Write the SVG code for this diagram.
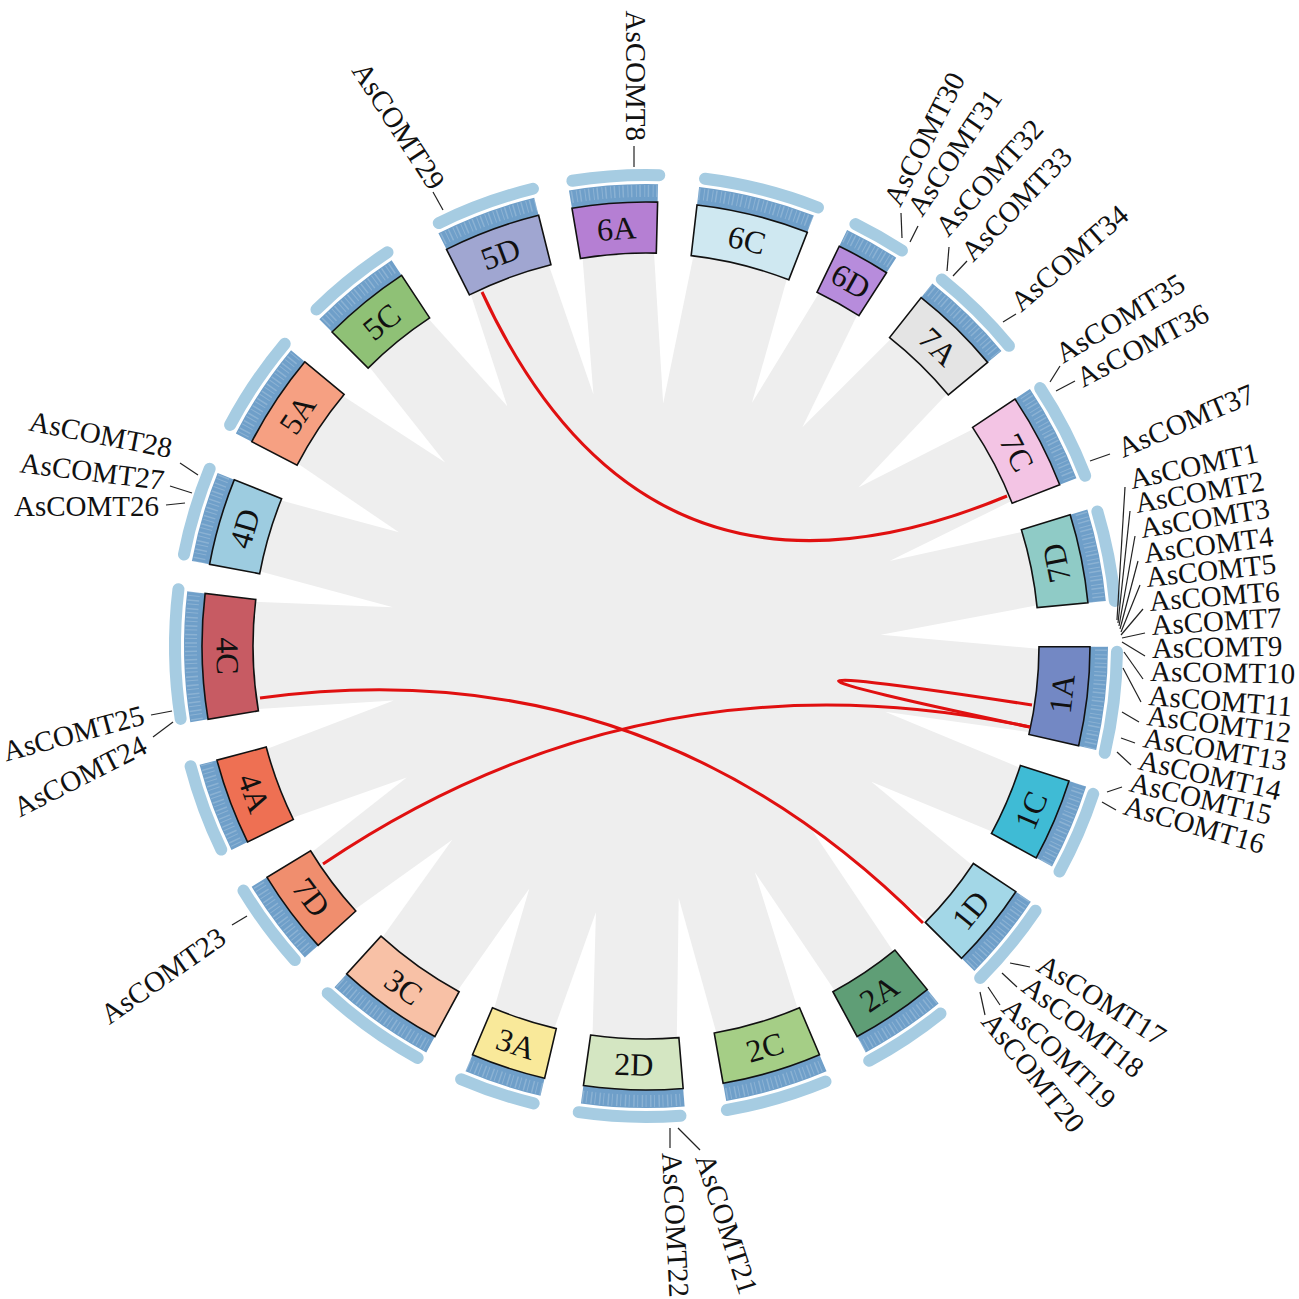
<svg xmlns="http://www.w3.org/2000/svg" width="1299" height="1299" viewBox="0 0 1299 1299">
<style>
.box{stroke:#111;stroke-width:1.6}
.band{fill:none;stroke:#6f9fc9;stroke-width:18}
.arc{fill:none;stroke:#a6cce2;stroke-width:12;stroke-linecap:round}
.clab{font-family:"Liberation Serif","Times New Roman",serif;font-size:32px;fill:#111;text-anchor:middle;dominant-baseline:central}
.glab{font-family:"Liberation Serif","Times New Roman",serif;font-size:29px;fill:#111}
.end{text-anchor:end}
.lead{stroke:#222;stroke-width:1.2;fill:none}
.link{fill:none;stroke:#e01010;stroke-width:3}
.wedge{fill:#fff}
.ticks{fill:none;stroke:#fff;stroke-opacity:0.2;stroke-width:12;stroke-dasharray:1 2.5 1.5 3.5}
</style>
<rect width="1299" height="1299" fill="#fff"/>
<g id="ribbons">
<circle cx="646" cy="646" r="394" fill="#eeeeee"/>
<path class="wedge" transform="translate(646 646) rotate(348.2)" d="M -18.8 -405 L 0 -257 L 18.8 -405 Z"/>
<path class="wedge" transform="translate(646 646) rotate(4.05)" d="M -21.4 -405 L 0 -243 L 21.4 -405 Z"/>
<path class="wedge" transform="translate(646 646) rotate(23.55)" d="M -19.2 -405 L 0 -265 L 19.2 -405 Z"/>
<path class="wedge" transform="translate(646 646) rotate(35.55)" d="M -22.8 -405 L 0 -269 L 22.8 -405 Z"/>
<path class="wedge" transform="translate(646 646) rotate(53.25)" d="M -24.2 -405 L 0 -265 L 24.2 -405 Z"/>
<path class="wedge" transform="translate(646 646) rotate(70.75)" d="M -17.8 -405 L 0 -258 L 17.8 -405 Z"/>
<path class="wedge" transform="translate(646 646) rotate(87.25)" d="M -23.5 -405 L 0 -235 L 23.5 -405 Z"/>
<path class="wedge" transform="translate(646 646) rotate(105.35)" d="M -19.9 -405 L 0 -248 L 19.9 -405 Z"/>
<path class="wedge" transform="translate(646 646) rotate(121.05)" d="M -21.4 -405 L 0 -263 L 21.4 -405 Z"/>
<path class="wedge" transform="translate(646 646) rotate(137.7)" d="M -24.6 -405 L 0 -240 L 24.6 -405 Z"/>
<path class="wedge" transform="translate(646 646) rotate(154.3)" d="M -22.4 -405 L 0 -251 L 22.4 -405 Z"/>
<path class="wedge" transform="translate(646 646) rotate(172.6)" d="M -21.7 -405 L 0 -254 L 21.7 -405 Z"/>
<path class="wedge" transform="translate(646 646) rotate(190.65)" d="M -21.4 -405 L 0 -271 L 21.4 -405 Z"/>
<path class="wedge" transform="translate(646 646) rotate(205.7)" d="M -22.4 -405 L 0 -269 L 22.4 -405 Z"/>
<path class="wedge" transform="translate(646 646) rotate(225)" d="M -21.7 -405 L 0 -274 L 21.7 -405 Z"/>
<path class="wedge" transform="translate(646 646) rotate(241.2)" d="M -21.7 -405 L 0 -273 L 21.7 -405 Z"/>
<path class="wedge" transform="translate(646 646) rotate(257.8)" d="M -22.4 -405 L 0 -258 L 22.4 -405 Z"/>
<path class="wedge" transform="translate(646 646) rotate(278.7)" d="M -16.7 -405 L 0 -256 L 16.7 -405 Z"/>
<path class="wedge" transform="translate(646 646) rotate(294.7)" d="M -22.4 -405 L 0 -272 L 22.4 -405 Z"/>
<path class="wedge" transform="translate(646 646) rotate(312.4)" d="M -21.7 -405 L 0 -272 L 21.7 -405 Z"/>
<path class="wedge" transform="translate(646 646) rotate(329.95)" d="M -27.1 -405 L 0 -277 L 27.1 -405 Z"/>
</g>
<g id="chromosomes">
<g id="chr-6A" transform="translate(646 646) rotate(-4.05)">
<circle class="arc" r="471" transform="rotate(-94.95)" stroke-dasharray="87.25 3000"/>
<circle class="band" r="453" transform="rotate(-95.55)" stroke-dasharray="87.76 3000"/>
<path class="box" fill="#b57fd3" d="M -42.94 -441.92 A 444 444 0 0 1 42.94 -441.92 L 38.01 -391.16 A 393 393 0 0 0 -38.01 -391.16 Z"/>
<text class="clab" x="0" y="-418.5">6A</text>
</g>
<g id="chr-6C" transform="translate(646 646) rotate(13.95)">
<circle class="arc" r="471" transform="rotate(-96.75)" stroke-dasharray="116.84 3000"/>
<circle class="band" r="453" transform="rotate(-97.35)" stroke-dasharray="116.22 3000"/>
<path class="box" fill="#cfe8f1" d="M -56.80 -440.35 A 444 444 0 0 1 56.80 -440.35 L 50.28 -389.77 A 393 393 0 0 0 -50.28 -389.77 Z"/>
<text class="clab" x="0" y="-418.5">6C</text>
</g>
<g id="chr-6D" transform="translate(646 646) rotate(29.3)">
<circle class="arc" r="471" transform="rotate(-92.9)" stroke-dasharray="53.54 3000"/>
<circle class="band" r="453" transform="rotate(-93.5)" stroke-dasharray="55.34 3000"/>
<path class="box" fill="#b78cdc" d="M -27.11 -443.17 A 444 444 0 0 1 27.11 -443.17 L 23.99 -392.27 A 393 393 0 0 0 -23.99 -392.27 Z"/>
<text class="clab" x="0" y="-418.5">6D</text>
</g>
<g id="chr-7A" transform="translate(646 646) rotate(44.3)">
<circle class="arc" r="471" transform="rotate(-95.4)" stroke-dasharray="94.65 3000"/>
<circle class="band" r="453" transform="rotate(-96)" stroke-dasharray="94.88 3000"/>
<path class="box" fill="#e4e4e4" d="M -46.41 -441.57 A 444 444 0 0 1 46.41 -441.57 L 41.08 -390.85 A 393 393 0 0 0 -41.08 -390.85 Z"/>
<text class="clab" x="0" y="-418.5">7A</text>
</g>
<g id="chr-7C" transform="translate(646 646) rotate(62.45)">
<circle class="arc" r="471" transform="rotate(-95.65)" stroke-dasharray="98.76 3000"/>
<circle class="band" r="453" transform="rotate(-96.25)" stroke-dasharray="98.83 3000"/>
<path class="box" fill="#f3c4e4" d="M -48.34 -441.36 A 444 444 0 0 1 48.34 -441.36 L 42.79 -390.67 A 393 393 0 0 0 -42.79 -390.67 Z"/>
<text class="clab" x="0" y="-418.5">7C</text>
</g>
<g id="chr-7D-right" transform="translate(646 646) rotate(78.6)">
<circle class="arc" r="471" transform="rotate(-95.2)" stroke-dasharray="91.36 3000"/>
<circle class="band" r="453" transform="rotate(-95.8)" stroke-dasharray="91.71 3000"/>
<path class="box" fill="#8fcbc6" d="M -44.87 -441.73 A 444 444 0 0 1 44.87 -441.73 L 39.72 -390.99 A 393 393 0 0 0 -39.72 -390.99 Z"/>
<text class="clab" x="0" y="-418.5" transform="rotate(180 0 -418.5)">7D</text>
</g>
<g id="chr-1A" transform="translate(646 646) rotate(96.55)">
<circle class="arc" r="471" transform="rotate(-95.85)" stroke-dasharray="102.04 3000"/>
<circle class="band" r="453" transform="rotate(-96.45)" stroke-dasharray="101.99 3000"/>
<path class="box" fill="#7388c4" d="M -49.87 -441.19 A 444 444 0 0 1 49.87 -441.19 L 44.15 -390.51 A 393 393 0 0 0 -44.15 -390.51 Z"/>
<text class="clab" x="0" y="-418.5" transform="rotate(180 0 -418.5)">1A</text>
</g>
<g id="chr-1C" transform="translate(646 646) rotate(113.1)">
<circle class="arc" r="471" transform="rotate(-94.8)" stroke-dasharray="84.78 3000"/>
<circle class="band" r="453" transform="rotate(-95.4)" stroke-dasharray="85.39 3000"/>
<path class="box" fill="#3fbbd5" d="M -41.78 -442.03 A 444 444 0 0 1 41.78 -442.03 L 36.98 -391.26 A 393 393 0 0 0 -36.98 -391.26 Z"/>
<text class="clab" x="0" y="-418.5" transform="rotate(180 0 -418.5)">1C</text>
</g>
<g id="chr-1D" transform="translate(646 646) rotate(129.15)">
<circle class="arc" r="471" transform="rotate(-94.95)" stroke-dasharray="87.25 3000"/>
<circle class="band" r="453" transform="rotate(-95.55)" stroke-dasharray="87.76 3000"/>
<path class="box" fill="#a3d7e7" d="M -42.94 -441.92 A 444 444 0 0 1 42.94 -441.92 L 38.01 -391.16 A 393 393 0 0 0 -38.01 -391.16 Z"/>
<text class="clab" x="0" y="-418.5" transform="rotate(180 0 -418.5)">1D</text>
</g>
<g id="chr-2A" transform="translate(646 646) rotate(146.15)">
<circle class="arc" r="471" transform="rotate(-94.85)" stroke-dasharray="85.60 3000"/>
<circle class="band" r="453" transform="rotate(-95.45)" stroke-dasharray="86.18 3000"/>
<path class="box" fill="#5f9e76" d="M -42.17 -441.99 A 444 444 0 0 1 42.17 -441.99 L 37.33 -391.22 A 393 393 0 0 0 -37.33 -391.22 Z"/>
<text class="clab" x="0" y="-418.5" transform="rotate(180 0 -418.5)">2A</text>
</g>
<g id="chr-2C" transform="translate(646 646) rotate(163.5)">
<circle class="arc" r="471" transform="rotate(-95.9)" stroke-dasharray="102.87 3000"/>
<circle class="band" r="453" transform="rotate(-96.5)" stroke-dasharray="102.78 3000"/>
<path class="box" fill="#a5ce86" d="M -50.26 -441.15 A 444 444 0 0 1 50.26 -441.15 L 44.49 -390.47 A 393 393 0 0 0 -44.49 -390.47 Z"/>
<text class="clab" x="0" y="-418.5" transform="rotate(180 0 -418.5)">2C</text>
</g>
<g id="chr-2D" transform="translate(646 646) rotate(181.65)">
<circle class="arc" r="471" transform="rotate(-95.85)" stroke-dasharray="102.04 3000"/>
<circle class="band" r="453" transform="rotate(-96.45)" stroke-dasharray="101.99 3000"/>
<path class="box" fill="#d4e6c2" d="M -49.87 -441.19 A 444 444 0 0 1 49.87 -441.19 L 44.15 -390.51 A 393 393 0 0 0 -44.15 -390.51 Z"/>
<text class="clab" x="0" y="-418.5" transform="rotate(180 0 -418.5)">2D</text>
</g>
<g id="chr-3A" transform="translate(646 646) rotate(198.1)">
<circle class="arc" r="471" transform="rotate(-94.3)" stroke-dasharray="76.56 3000"/>
<circle class="band" r="453" transform="rotate(-94.9)" stroke-dasharray="77.48 3000"/>
<path class="box" fill="#f9e99a" d="M -37.93 -442.38 A 444 444 0 0 1 37.93 -442.38 L 33.57 -391.57 A 393 393 0 0 0 -33.57 -391.57 Z"/>
<text class="clab" x="0" y="-418.5" transform="rotate(180 0 -418.5)">3A</text>
</g>
<g id="chr-3C" transform="translate(646 646) rotate(215.4)">
<circle class="arc" r="471" transform="rotate(-96.4)" stroke-dasharray="111.09 3000"/>
<circle class="band" r="453" transform="rotate(-97)" stroke-dasharray="110.69 3000"/>
<path class="box" fill="#f8c1a6" d="M -54.11 -440.69 A 444 444 0 0 1 54.11 -440.69 L 47.90 -390.07 A 393 393 0 0 0 -47.90 -390.07 Z"/>
<text class="clab" x="0" y="-418.5" transform="rotate(180 0 -418.5)">3C</text>
</g>
<g id="chr-7D-left" transform="translate(646 646) rotate(233.1)">
<circle class="arc" r="471" transform="rotate(-94.9)" stroke-dasharray="86.43 3000"/>
<circle class="band" r="453" transform="rotate(-95.5)" stroke-dasharray="86.97 3000"/>
<path class="box" fill="#f08e6e" d="M -42.56 -441.96 A 444 444 0 0 1 42.56 -441.96 L 37.67 -391.19 A 393 393 0 0 0 -37.67 -391.19 Z"/>
<text class="clab" x="0" y="-418.5" transform="rotate(180 0 -418.5)">7D</text>
</g>
<g id="chr-4A" transform="translate(646 646) rotate(249.45)">
<circle class="arc" r="471" transform="rotate(-95.05)" stroke-dasharray="88.89 3000"/>
<circle class="band" r="453" transform="rotate(-95.65)" stroke-dasharray="89.34 3000"/>
<path class="box" fill="#ee7053" d="M -43.71 -441.84 A 444 444 0 0 1 43.71 -441.84 L 38.69 -391.09 A 393 393 0 0 0 -38.69 -391.09 Z"/>
<text class="clab" x="0" y="-418.5" transform="rotate(180 0 -418.5)">4A</text>
</g>
<g id="chr-4C" transform="translate(646 646) rotate(268.65)">
<circle class="arc" r="471" transform="rotate(-97.55)" stroke-dasharray="129.99 3000"/>
<circle class="band" r="453" transform="rotate(-98.15)" stroke-dasharray="128.87 3000"/>
<path class="box" fill="#c75b63" d="M -62.95 -439.52 A 444 444 0 0 1 62.95 -439.52 L 55.72 -389.03 A 393 393 0 0 0 -55.72 -389.03 Z"/>
<text class="clab" x="0" y="-418.5" transform="rotate(180 0 -418.5)">4C</text>
</g>
<g id="chr-4D" transform="translate(646 646) rotate(286.3)">
<circle class="arc" r="471" transform="rotate(-95.1)" stroke-dasharray="89.71 3000"/>
<circle class="band" r="453" transform="rotate(-95.7)" stroke-dasharray="90.13 3000"/>
<path class="box" fill="#9dcce0" d="M -44.10 -441.81 A 444 444 0 0 1 44.10 -441.81 L 39.03 -391.06 A 393 393 0 0 0 -39.03 -391.06 Z"/>
<text class="clab" x="0" y="-418.5">4D</text>
</g>
<g id="chr-5A" transform="translate(646 646) rotate(303.6)">
<circle class="arc" r="471" transform="rotate(-95.6)" stroke-dasharray="97.93 3000"/>
<circle class="band" r="453" transform="rotate(-96.2)" stroke-dasharray="98.04 3000"/>
<path class="box" fill="#f6a082" d="M -47.95 -441.40 A 444 444 0 0 1 47.95 -441.40 L 42.44 -390.70 A 393 393 0 0 0 -42.44 -390.70 Z"/>
<text class="clab" x="0" y="-418.5">5A</text>
</g>
<g id="chr-5C" transform="translate(646 646) rotate(320.8)">
<circle class="arc" r="471" transform="rotate(-95.2)" stroke-dasharray="91.36 3000"/>
<circle class="band" r="453" transform="rotate(-95.8)" stroke-dasharray="91.71 3000"/>
<path class="box" fill="#8fc176" d="M -44.87 -441.73 A 444 444 0 0 1 44.87 -441.73 L 39.72 -390.99 A 393 393 0 0 0 -39.72 -390.99 Z"/>
<text class="clab" x="0" y="-418.5">5C</text>
</g>
<g id="chr-5D" transform="translate(646 646) rotate(339.65)">
<circle class="arc" r="471" transform="rotate(-95.75)" stroke-dasharray="100.40 3000"/>
<circle class="band" r="453" transform="rotate(-96.35)" stroke-dasharray="100.41 3000"/>
<path class="box" fill="#a0a6d1" d="M -49.11 -441.28 A 444 444 0 0 1 49.11 -441.28 L 43.47 -390.59 A 393 393 0 0 0 -43.47 -390.59 Z"/>
<text class="clab" x="0" y="-418.5">5D</text>
</g>
<circle class="ticks" cx="646" cy="646" r="455"/>
</g>
<g id="links">
<path class="link" d="M 482 292 Q 646 646 1007 496"/>
<path class="link" d="M 260 698 Q 646 646 923 923"/>
<path class="link" d="M 323 864 Q 646 646 1030 727"/>
<path class="link" d="M 1032 705 Q 646 646 1030 727"/>
</g>
<g id="gene-labels">
<g id="AsCOMT1"><path class="lead" d="M 1117 620 L 1125 487"/><text class="glab" x="1132" y="489" transform="rotate(-12 1132 489)">AsCOMT1</text></g>
<g id="AsCOMT2"><path class="lead" d="M 1118 623 L 1130 511"/><text class="glab" x="1137" y="513" transform="rotate(-10 1137 513)">AsCOMT2</text></g>
<g id="AsCOMT3"><path class="lead" d="M 1119 626 L 1135 536"/><text class="glab" x="1142" y="538" transform="rotate(-9 1142 538)">AsCOMT3</text></g>
<g id="AsCOMT4"><path class="lead" d="M 1120 629 L 1138 561"/><text class="glab" x="1145" y="563" transform="rotate(-7.5 1145 563)">AsCOMT4</text></g>
<g id="AsCOMT5"><path class="lead" d="M 1121 632 L 1140 585"/><text class="glab" x="1147" y="587" transform="rotate(-6 1147 587)">AsCOMT5</text></g>
<g id="AsCOMT6"><path class="lead" d="M 1121 635 L 1143 609"/><text class="glab" x="1150" y="611" transform="rotate(-4.5 1150 611)">AsCOMT6</text></g>
<g id="AsCOMT7"><path class="lead" d="M 1122 638 L 1145 633"/><text class="glab" x="1152" y="635" transform="rotate(-3.5 1152 635)">AsCOMT7</text></g>
<g id="AsCOMT9"><path class="lead" d="M 1122 642 L 1145 656"/><text class="glab" x="1152" y="658" transform="rotate(-1 1152 658)">AsCOMT9</text></g>
<g id="AsCOMT10"><path class="lead" d="M 1124 652 L 1143 679"/><text class="glab" x="1150" y="681" transform="rotate(1 1150 681)">AsCOMT10</text></g>
<g id="AsCOMT11"><path class="lead" d="M 1123 668 L 1141 702"/><text class="glab" x="1148" y="705" transform="rotate(4.5 1148 705)">AsCOMT11</text></g>
<g id="AsCOMT12"><path class="lead" d="M 1122 712 L 1139 722"/><text class="glab" x="1146" y="725" transform="rotate(7 1146 725)">AsCOMT12</text></g>
<g id="AsCOMT13"><path class="lead" d="M 1121 738 L 1135 743"/><text class="glab" x="1142" y="747" transform="rotate(9.5 1142 747)">AsCOMT13</text></g>
<g id="AsCOMT14"><path class="lead" d="M 1117 752 L 1131 765"/><text class="glab" x="1137" y="769" transform="rotate(12.5 1137 769)">AsCOMT14</text></g>
<g id="AsCOMT15"><path class="lead" d="M 1107 792 L 1122 787"/><text class="glab" x="1128" y="791" transform="rotate(13.5 1128 791)">AsCOMT15</text></g>
<g id="AsCOMT16"><path class="lead" d="M 1102 802 L 1116 810"/><text class="glab" x="1122" y="814" transform="rotate(16 1122 814)">AsCOMT16</text></g>
<g id="AsCOMT17"><path class="lead" d="M 1010 963 L 1030 967"/><text class="glab" x="1035" y="970" transform="rotate(32 1035 970)">AsCOMT17</text></g>
<g id="AsCOMT18"><path class="lead" d="M 1002 973 L 1017 987"/><text class="glab" x="1020" y="990" transform="rotate(38 1020 990)">AsCOMT18</text></g>
<g id="AsCOMT19"><path class="lead" d="M 988 987 L 1000 1005"/><text class="glab" x="1000" y="1010" transform="rotate(44 1000 1010)">AsCOMT19</text></g>
<g id="AsCOMT20"><path class="lead" d="M 980 992 L 985 1015"/><text class="glab" x="980" y="1022" transform="rotate(51 980 1022)">AsCOMT20</text></g>
<g id="AsCOMT21"><path class="lead" d="M 678 1128 L 700 1150"/><text class="glab" x="695" y="1158" transform="rotate(72 695 1158)">AsCOMT21</text></g>
<g id="AsCOMT22"><path class="lead" d="M 670 1128 L 670 1148"/><text class="glab" x="662" y="1153" transform="rotate(87 662 1153)">AsCOMT22</text></g>
<g id="AsCOMT23"><path class="lead" d="M 247 916 L 232 925"/><text class="glab end" x="228" y="942" transform="rotate(-35 228 942)">AsCOMT23</text></g>
<g id="AsCOMT24"><path class="lead" d="M 173 722 L 153 737"/><text class="glab end" x="149" y="752" transform="rotate(-27 149 752)">AsCOMT24</text></g>
<g id="AsCOMT25"><path class="lead" d="M 172 711 L 151 715"/><text class="glab end" x="146" y="724" transform="rotate(-15 146 724)">AsCOMT25</text></g>
<g id="AsCOMT26"><path class="lead" d="M 185 503 L 166 505"/><text class="glab end" x="159" y="516">AsCOMT26</text></g>
<g id="AsCOMT27"><path class="lead" d="M 192 493 L 170 486"/><text class="glab end" x="163" y="490" transform="rotate(7 163 490)">AsCOMT27</text></g>
<g id="AsCOMT28"><path class="lead" d="M 198 475 L 180 463"/><text class="glab end" x="170" y="458" transform="rotate(11 170 458)">AsCOMT28</text></g>
<g id="AsCOMT29"><path class="lead" d="M 443 210 L 433 192"/><text class="glab end" x="430" y="192" transform="rotate(57 430 192)">AsCOMT29</text></g>
<g id="AsCOMT8"><path class="lead" d="M 634 167 L 634 146"/><text class="glab end" x="626" y="141" transform="rotate(90 626 141)">AsCOMT8</text></g>
<g id="AsCOMT30"><path class="lead" d="M 902 238 L 901 213"/><text class="glab" x="900" y="208" transform="rotate(-63 900 208)">AsCOMT30</text></g>
<g id="AsCOMT31"><path class="lead" d="M 910 242 L 918 226"/><text class="glab" x="922" y="218" transform="rotate(-56 922 218)">AsCOMT31</text></g>
<g id="AsCOMT32"><path class="lead" d="M 947 271 L 949 247"/><text class="glab" x="948" y="238" transform="rotate(-48 948 238)">AsCOMT32</text></g>
<g id="AsCOMT33"><path class="lead" d="M 953 276 L 967 261"/><text class="glab" x="973" y="263" transform="rotate(-46 973 263)">AsCOMT33</text></g>
<g id="AsCOMT34"><path class="lead" d="M 1003 322 L 1016 314"/><text class="glab" x="1021" y="313" transform="rotate(-41 1021 313)">AsCOMT34</text></g>
<g id="AsCOMT35"><path class="lead" d="M 1050 382 L 1060 366"/><text class="glab" x="1063" y="364" transform="rotate(-31 1063 364)">AsCOMT35</text></g>
<g id="AsCOMT36"><path class="lead" d="M 1056 391 L 1075 381"/><text class="glab" x="1083" y="388" transform="rotate(-28 1083 388)">AsCOMT36</text></g>
<g id="AsCOMT37"><path class="lead" d="M 1090 461 L 1110 454"/><text class="glab" x="1123" y="458" transform="rotate(-23 1123 458)">AsCOMT37</text></g>
</g>
</svg>
